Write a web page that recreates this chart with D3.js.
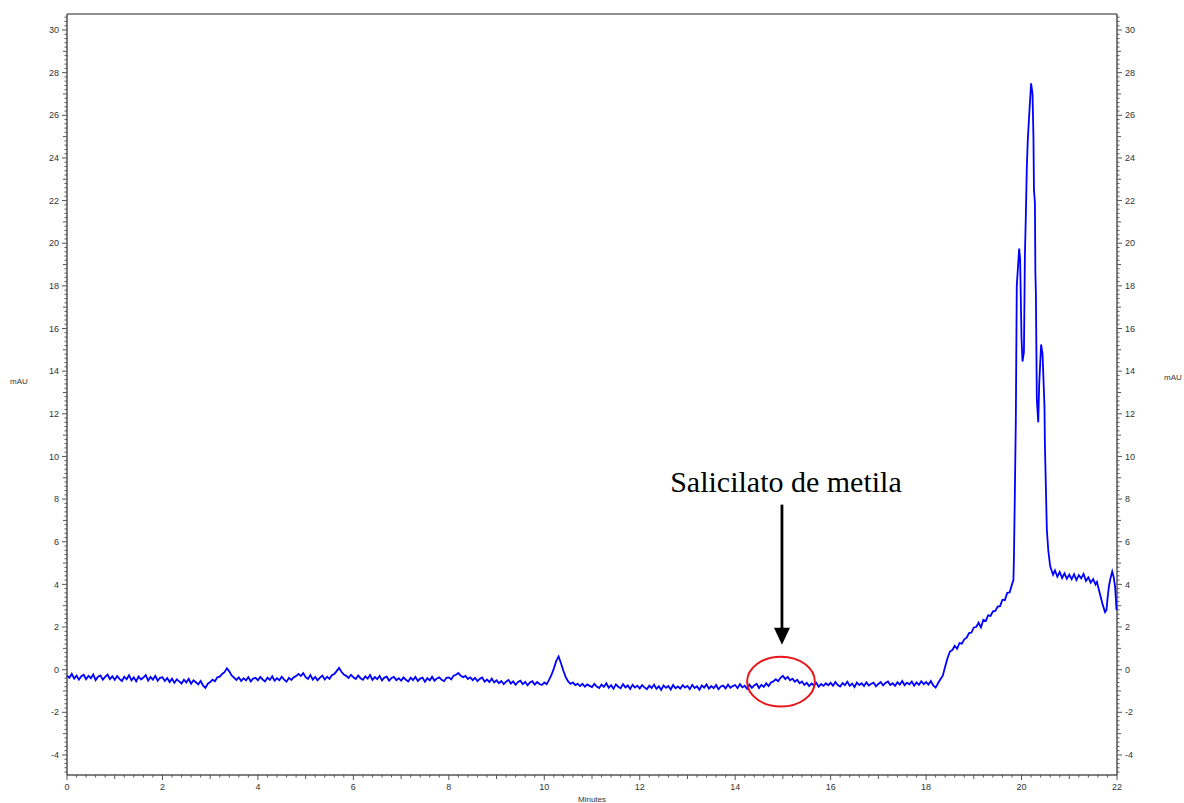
<!DOCTYPE html>
<html>
<head>
<meta charset="utf-8">
<script src="https://cdn.jsdelivr.net/npm/d3@7"></script>
<style>
  body { margin: 0; background: #fff; }
  text { font-family: "Liberation Sans", Arial, sans-serif; }
</style>
</head>
<body>
<svg id="chart" width="1184" height="803"></svg>
<script>
// baseline values read every 0.05 min, from 0.00 to 18.25 (one row = one minute)
const baseStep = 0.05;
const baseValues = [
  -0.28,-0.38,-0.20,-0.42,-0.28,-0.47,-0.31,-0.24,-0.45,-0.29,-0.40,-0.22,-0.49,-0.33,-0.27,-0.47,-0.34,-0.23,-0.44,-0.31,
  -0.48,-0.30,-0.43,-0.53,-0.33,-0.45,-0.26,-0.50,-0.36,-0.55,-0.32,-0.46,-0.37,-0.25,-0.51,-0.34,-0.47,-0.29,-0.52,-0.38,
  -0.36,-0.53,-0.39,-0.58,-0.42,-0.62,-0.45,-0.55,-0.65,-0.47,-0.60,-0.43,-0.66,-0.50,-0.59,-0.69,-0.53,-0.74,-0.86,-0.66,
  -0.58,-0.47,-0.54,-0.36,-0.33,-0.20,-0.12,0.06,-0.08,-0.27,-0.37,-0.48,-0.36,-0.53,-0.40,-0.50,-0.35,-0.55,-0.42,-0.38,
  -0.50,-0.34,-0.46,-0.55,-0.37,-0.48,-0.31,-0.52,-0.40,-0.49,-0.33,-0.47,-0.56,-0.38,-0.48,-0.36,-0.30,-0.20,-0.30,-0.16,
  -0.35,-0.43,-0.25,-0.47,-0.34,-0.50,-0.37,-0.28,-0.46,-0.33,-0.43,-0.26,-0.20,-0.07,0.08,-0.10,-0.23,-0.29,-0.39,-0.24,
  -0.36,-0.44,-0.27,-0.40,-0.47,-0.31,-0.42,-0.25,-0.48,-0.35,-0.45,-0.29,-0.50,-0.37,-0.33,-0.52,-0.39,-0.34,-0.49,-0.40,
  -0.51,-0.36,-0.47,-0.55,-0.38,-0.49,-0.34,-0.53,-0.42,-0.37,-0.57,-0.40,-0.50,-0.33,-0.52,-0.41,-0.36,-0.48,-0.54,-0.38,
  -0.36,-0.46,-0.28,-0.24,-0.16,-0.29,-0.35,-0.29,-0.44,-0.36,-0.49,-0.38,-0.54,-0.43,-0.37,-0.56,-0.46,-0.58,-0.42,-0.60,
  -0.50,-0.63,-0.53,-0.68,-0.56,-0.48,-0.65,-0.55,-0.71,-0.58,-0.52,-0.68,-0.57,-0.73,-0.60,-0.54,-0.70,-0.58,-0.67,-0.72,
  -0.60,-0.68,-0.48,-0.25,0.05,0.40,0.62,0.30,-0.05,-0.35,-0.55,-0.67,-0.60,-0.72,-0.66,-0.77,-0.66,-0.80,-0.69,-0.76,
  -0.82,-0.67,-0.79,-0.86,-0.70,-0.81,-0.64,-0.85,-0.73,-0.90,-0.69,-0.80,-0.87,-0.68,-0.83,-0.74,-0.91,-0.71,-0.84,-0.75,
  -0.88,-0.72,-0.83,-0.92,-0.75,-0.86,-0.70,-0.90,-0.78,-0.95,-0.74,-0.85,-0.77,-0.93,-0.72,-0.87,-0.79,-0.89,-0.73,-0.84,
  -0.76,-0.91,-0.71,-0.86,-0.78,-0.94,-0.74,-0.84,-0.69,-0.89,-0.77,-0.87,-0.72,-0.92,-0.79,-0.75,-0.88,-0.70,-0.85,-0.77,
  -0.72,-0.87,-0.68,-0.83,-0.75,-0.90,-0.70,-0.85,-0.74,-0.66,-0.86,-0.71,-0.81,-0.64,-0.77,-0.60,-0.55,-0.45,-0.54,-0.38,
  -0.29,-0.44,-0.34,-0.50,-0.42,-0.57,-0.48,-0.64,-0.56,-0.72,-0.62,-0.77,-0.65,-0.74,-0.61,-0.80,-0.67,-0.76,-0.64,-0.73,
  -0.62,-0.75,-0.58,-0.72,-0.79,-0.63,-0.73,-0.56,-0.76,-0.65,-0.81,-0.60,-0.72,-0.64,-0.77,-0.59,-0.74,-0.66,-0.61,-0.78,
  -0.67,-0.58,-0.74,-0.62,-0.55,-0.72,-0.64,-0.76,-0.59,-0.70,-0.53,-0.73,-0.61,-0.69,-0.56,-0.75,-0.60,-0.71,-0.54,-0.68,
  -0.58,-0.70,-0.53,-0.74,-0.84,-0.64
];

// gradient rise, main peaks and tail (minutes, mAU)
const tailTimes = [
  18.30,18.35,18.40,18.45,18.50,18.55,18.60,18.65,18.70,18.75,18.80,18.85,18.90,18.95,19.00,19.05,19.10,19.15,19.20,19.25,
  19.30,19.35,19.40,19.45,19.50,19.55,19.60,19.65,19.70,19.75,19.80,19.83,19.84,19.86,19.88,19.90,19.95,19.97,20.00,20.02,
  20.05,20.07,20.09,20.11,20.13,20.16,20.20,20.23,20.25,20.26,20.28,20.29,20.30,20.32,20.35,20.37,20.41,20.44,20.46,20.48,
  20.49,20.53,20.56,20.60,20.63,20.66,20.70,20.75,20.80,20.85,20.90,20.95,21.00,21.05,21.10,21.15,21.20,21.25,21.30,21.35,
  21.40,21.45,21.50,21.55,21.58,21.62,21.66,21.70,21.75,21.78,21.80,21.83,21.86,21.90,21.93,21.96,21.99
];
const tailValues = [
  -0.45,-0.28,0.15,0.55,0.85,0.92,1.12,0.98,1.25,1.22,1.42,1.50,1.72,1.74,1.98,2.00,2.20,1.98,2.34,2.28,
  2.55,2.52,2.74,2.76,2.96,2.98,3.28,3.26,3.60,3.62,4.00,4.2,5.2,8.3,11.7,18.0,19.75,19.25,15.5,14.45,
  14.9,19.4,21.3,23.5,24.8,26.0,27.5,27.0,24.9,22.5,21.9,18.6,17.7,12.7,11.6,13.4,15.25,14.8,13.6,12.35,
  10.5,6.57,5.6,4.85,4.65,4.45,4.66,4.36,4.58,4.30,4.52,4.26,4.46,4.24,4.48,4.20,4.43,4.28,4.49,4.16,
  4.33,4.08,4.25,4.00,4.12,3.75,3.40,3.05,2.70,2.80,3.30,3.90,4.25,4.60,4.35,3.90,2.80
];

const xDomain = [0, 22];
const yDomain = [-4.94, 30.75];
const xLabelTicks = [0, 2, 4, 6, 8, 10, 12, 14, 16, 18, 20, 22];
const yLabelTicks = [-4, -2, 0, 2, 4, 6, 8, 10, 12, 14, 16, 18, 20, 22, 24, 26, 28, 30];

const annotation = { text: "Salicilato de metila", t: 14.98, textV: 8.35, arrowTop: 7.74, arrowTip: 1.17, ringV: -0.56, ringRx: 0.71, ringRy: 1.17 };

const margin = { top: 14, right: 67, bottom: 28, left: 67 };
const width = 1184, height = 803;
const w = width - margin.left - margin.right;
const h = height - margin.top - margin.bottom;

const series = baseValues.map((v, i) => ({ t: +(i * baseStep).toFixed(2), v }))
  .concat(tailTimes.map((t, i) => ({ t, v: tailValues[i] })));

const svg = d3.select("#chart");
const g = svg.append("g").attr("transform", `translate(${margin.left},${margin.top})`);

const x = d3.scaleLinear().domain(xDomain).range([0, w]);
const y = d3.scaleLinear().domain(yDomain).range([h, 0]);

// minor / medium ticks
const xMinor = d3.range(0, 22.001, 0.2).map(d => +d.toFixed(1));
const yMinor = d3.range(-4.8, 30.75, 0.2).map(d => +d.toFixed(1));

function tickLen(d) {
  if (Math.abs(d % 2) < 1e-6) return 5;
  if (Math.abs(d % 1) < 1e-6) return 4;
  return 2.5;
}

// bottom axis
const bottom = g.append("g").attr("class", "bottom axis").attr("transform", `translate(0,${h})`);
bottom.append("line").attr("x1", 0).attr("x2", w).attr("stroke", "#000");
bottom.selectAll(".tk").data(xMinor).join("line")
  .attr("x1", d => x(d)).attr("x2", d => x(d))
  .attr("y1", 0).attr("y2", d => tickLen(d))
  .attr("stroke", "#555").attr("stroke-width", 1);
bottom.selectAll(".lbl").data(xLabelTicks).join("text")
  .attr("x", d => x(d)).attr("y", 15)
  .attr("text-anchor", "middle").attr("font-size", "9px").attr("fill", "#333")
  .text(d => d);

// x axis-label
g.append("text")
  .attr("x", w / 2).attr("y", h + 27)
  .attr("text-anchor", "middle").attr("font-size", "8px").attr("fill", "#333")
  .text("Minutes");

// left and right axes
[{ side: "left", x0: 0, dir: -1 }, { side: "right", x0: w, dir: 1 }].forEach(a => {
  const ax = g.append("g").attr("class", a.side + " axis").attr("transform", `translate(${a.x0},0)`);
  ax.append("line").attr("y1", 0).attr("y2", h).attr("stroke", "#000");
  ax.selectAll(".tk").data(yMinor).join("line")
    .attr("y1", d => y(d)).attr("y2", d => y(d))
    .attr("x1", 0).attr("x2", d => a.dir * tickLen(d))
    .attr("stroke", "#555").attr("stroke-width", 1);
  ax.selectAll(".lbl").data(yLabelTicks).join("text")
    .attr("x", a.dir * 8).attr("y", d => y(d)).attr("dy", "0.35em")
    .attr("text-anchor", a.dir < 0 ? "end" : "start")
    .attr("font-size", "9px").attr("fill", "#333")
    .text(d => d);
});

// y axis-labels
svg.append("text").attr("x", 19).attr("y", 384).attr("text-anchor", "middle")
  .attr("font-size", "8px").attr("fill", "#333").text("mAU");
svg.append("text").attr("x", 1173).attr("y", 380).attr("text-anchor", "middle")
  .attr("font-size", "8px").attr("fill", "#333").text("mAU");

// top frame
g.append("line").attr("x1", 0).attr("x2", w).attr("y1", 0).attr("y2", 0).attr("stroke", "#222");

// trace
const line = d3.line().x(d => x(d.t)).y(d => y(d.v));
g.append("path").datum(series)
  .attr("fill", "none").attr("stroke", "#0000ff").attr("stroke-width", 1.8)
  .attr("stroke-linejoin", "miter")
  .attr("d", line);

// annotation
const ax0 = x(annotation.t);
g.append("text")
  .attr("x", ax0 + 4).attr("y", y(annotation.textV))
  .attr("text-anchor", "middle")
  .style("font-family", "'Liberation Serif', 'Times New Roman', serif")
  .attr("font-size", "30px").attr("fill", "#000")
  .text(annotation.text);
g.append("line")
  .attr("x1", ax0).attr("x2", ax0)
  .attr("y1", y(annotation.arrowTop)).attr("y2", y(annotation.arrowTip) - 14)
  .attr("stroke", "#000").attr("stroke-width", 2.8);
g.append("path")
  .attr("d", `M${ax0 - 8},${y(annotation.arrowTip) - 17} L${ax0 + 8},${y(annotation.arrowTip) - 17} L${ax0},${y(annotation.arrowTip)} Z`)
  .attr("fill", "#000");
g.append("ellipse")
  .attr("cx", x(annotation.t - 0.02)).attr("cy", y(annotation.ringV))
  .attr("rx", x(annotation.ringRx) - x(0)).attr("ry", y(0) - y(annotation.ringRy))
  .attr("fill", "none").attr("stroke", "#e8161b").attr("stroke-width", 2);
</script>
</body>
</html>
